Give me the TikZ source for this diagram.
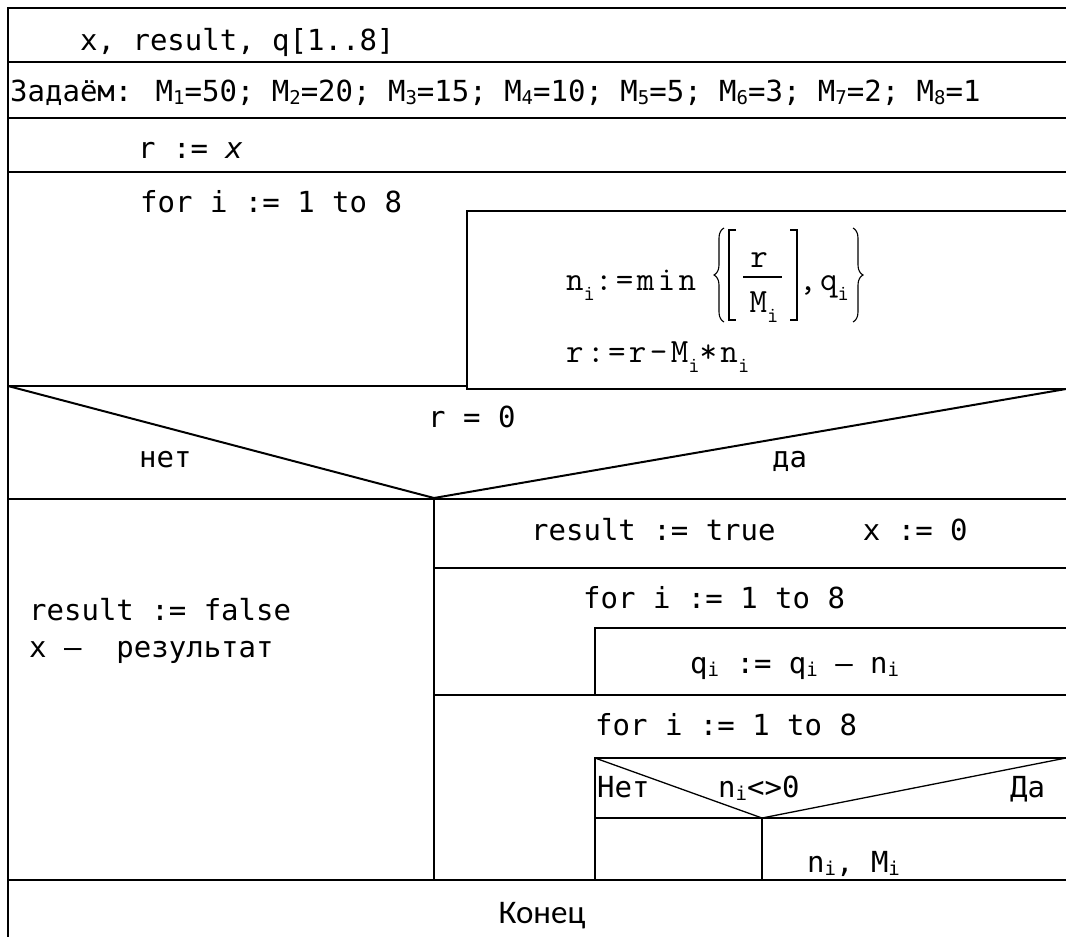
\documentclass[tikz,border=0pt]{standalone}
\usepackage{fontspec}
\usetikzlibrary{decorations.pathreplacing}
\setmainfont{Carlito}
\newfontfamily\mono{DejaVu Sans Mono}
\newfontfamily\cour[LetterSpace=10]{Latin Modern Mono}

% Indizes
\newcommand\ix[1]{\raisebox{-3pt}{\fontsize{19}{19}\selectfont #1}}
\newcommand\ci{\raisebox{-0.3em}{\fontsize{22}{22}\selectfont i}}

\tikzset{
  txt/.style={anchor=base west, inner sep=0pt, font=\mono\fontsize{29}{34}\selectfont},
  formel/.style={anchor=base west, inner sep=0pt, font=\cour\fontsize{34}{41}\selectfont},
  rahmen/.style={line width=2pt},
  duenn/.style={line width=1.3pt},
  klammer/.style={line width=1.1pt}
}

\begin{document}
\begin{tikzpicture}[x=1pt, y=-1pt]

  \useasboundingbox (0,0) rectangle (1066,937);

  % Rahmen und durchgehende Trennlinien
  \draw[rahmen] (1066,8) -- (8,8) -- (8,937);
  \foreach \y in {62,118,172,499,880} {
      \draw[rahmen] (8,\y) -- (1066,\y);
    }

  % Schleife 1: Koerper
  \draw[rahmen] (1066,211) -- (467,211) -- (467,389) -- (1066,389);
  \draw[rahmen] (8,386) -- (467,386);

  % Verzweigung r = 0
  \draw[rahmen] (8,386) -- (434,498) -- (1066,389);
  \draw[rahmen] (434,499) -- (434,880);

  % Zweig "да"
  \foreach \y in {568,695} {
      \draw[rahmen] (434,\y) -- (1066,\y);
    }
  \draw[duenn] (1066,628) -- (595,628) -- (595,695);
  \draw[duenn] (1066,758) -- (595,758) -- (595,880);
  \draw[duenn] (595,758) -- (762,818) -- (1066,758);
  \draw[duenn] (595,818) -- (1066,818);
  \draw[duenn] (762,818) -- (762,880);

  % Texte
  \node[txt] (kopf) at (80,50) {x, result, q[1..8]};
  \node[txt] (konst) at (10,101) {Задаём: M\ix{1}=50; M\ix{2}=20; M\ix{3}=15; M\ix{4}=10; M\ix{5}=5; M\ix{6}=3; M\ix{7}=2; M\ix{8}=1};
  \node[txt] (start) at (138,158) {r := \textit{x}};
  \node[txt] (schl1) at (140,212) {for i := 1 to 8};

  % Koerper: n_i := min{[r/M_i], q_i}
  \node[formel] (nzuw) at (566,290) {n\ci:=min};
  \draw[klammer, decorate, decoration={brace, amplitude=10pt}] (724,322) -- (724,228);
  \draw[klammer] (736,230) -| (729,320) -- (736,320);
  \node[formel, anchor=base] (zaehler) at (759,267) {r};
  \draw[klammer] (743,277) -- (782,277);
  \node[formel, anchor=base] (nenner) at (764,312) {M\ci};
  \draw[klammer] (790,230) -| (797,320) -- (790,320);
  \node[formel] (qkomma) at (799,290) {,q\ci};
  \draw[klammer, decorate, decoration={brace, amplitude=10pt}] (853,228) -- (853,322);

  % r := r - M_i * n_i
  \node[formel] (rzuw) at (566,362) {r:=r-M\ci*n\ci};

  \node[txt] (bed) at (428,427) {r = 0};
  \node[txt] (nein) at (139,467) {нет};
  \node[txt] (ja) at (772,467) {да};

  \node[txt] (falsch) at (29,620) {result := false};
  \node[txt] (ausg) at (29,657) {x –\ \ результат};

  \node[txt] (wahr) at (531,540) {result := true\ \ \ \ \ x := 0};
  \node[txt] (schl2) at (583,608) {for i := 1 to 8};
  \node[txt] (qzuw) at (690,673) {q\ix{i} := q\ix{i} – n\ix{i}};
  \node[txt] (schl3) at (595,735) {for i := 1 to 8};

  \node[txt] (nein2) at (597,797) {Нет};
  \node[txt] (bed2) at (718,797) {n\ix{i}<>0};
  \node[txt] (ja2) at (1010,797) {Да};
  \node[txt] (druck) at (807,872) {n\ix{i}, M\ix{i}};

  \node[anchor=base, inner sep=0pt, font=\fontsize{33}{38}\selectfont] (ende) at (542,923) {Конец};

\end{tikzpicture}
\end{document}
